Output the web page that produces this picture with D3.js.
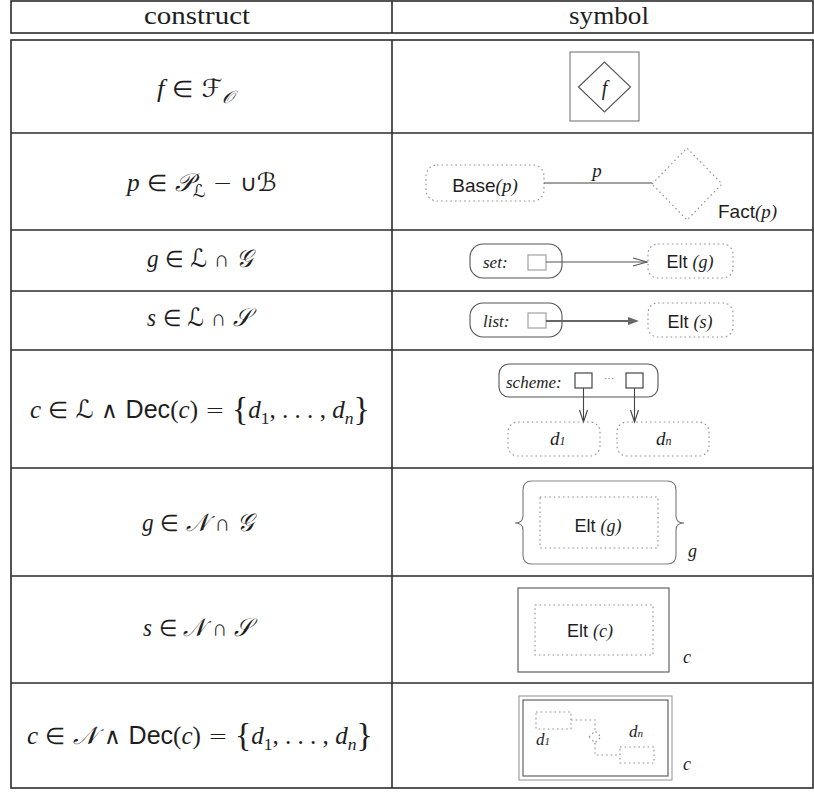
<!DOCTYPE html>
<html>
<head>
<meta charset="utf-8">
<script src="https://cdn.jsdelivr.net/npm/d3@7"></script>
<style>
  body { margin: 0; background: #fff; }
  text { white-space: pre; }
</style>
</head>
<body>
<div id="chart"></div>
<script>
const W = 814, H = 793;

// ---- table content ----
const headers = ["construct", "symbol"];

// formula runs: [text, style]  i=italic serif, r=roman, o=operator, c=calligraphic, s=sans, b=big brace, *_ = subscript
const constructs = [
  [["f","i"],[" ∈ ","o"],["ℱ","c"],["𝒪","c_"]],
  [["p","i"],[" ∈ ","o"],["𝒫","c"],["ℒ","c_"],[" − ∪","o"],["ℬ","c"]],
  [["g","i"],[" ∈ ","o"],["ℒ","c"],[" ∩ ","o"],["𝒢","c"]],
  [["s","i"],[" ∈ ","o"],["ℒ","c"],[" ∩ ","o"],["𝒮","c"]],
  [["c","i"],[" ∈ ","o"],["ℒ","c"],[" ∧ ","o"],["Dec","s"],["(","r"],["c","i"],[")","r"],[" = ","o"],
   ["{","b"],["d","i"],["1","r_"],[", . . . , ","r"],["d","i"],["n","i_"],["}","b"]],
  [["g","i"],[" ∈ ","o"],["𝒩","c"],[" ∩ ","o"],["𝒢","c"]],
  [["s","i"],[" ∈ ","o"],["𝒩","c"],[" ∩ ","o"],["𝒮","c"]],
  [["c","i"],[" ∈ ","o"],["𝒩","c"],[" ∧ ","o"],["Dec","s"],["(","r"],["c","i"],[")","r"],[" = ","o"],
   ["{","b"],["d","i"],["1","r_"],[", . . . , ","r"],["d","i"],["n","i_"],["}","b"]]
];

const symbolKinds = ["function", "property", "set", "list", "scheme", "nestedSet", "nestedList", "nestedScheme"];
const symbolTags  = ["", "", "set:", "list:", "scheme:", "", "", ""];
const symbolVars  = ["f", "p", "g", "s", "c", "g", "c", "c"];

// ---- layout ----
const LAYOUT = {
  left: 11, mid: 392, right: 813,
  headTop: 1, headBottom: 33, bodyTop: 40,
  rowHeights: [93, 97, 61, 59, 118, 108, 107, 105],
  formulaCx: [197.5, 201, 202, 202, 200, 200, 200.5, 200],
  formulaW: [81, 152, 110, 110, 340, 116, 115, 346],
  formulaBase: [57, 58, 37, 35, 68, 63, 60, 61],
  headCx: [197.5, 609], headW: [107, 80], headBase: 24
};

const FONT = {
  serif: "'Liberation Serif', 'DejaVu Serif', serif",
  sans: "'Liberation Sans', Arial, sans-serif",
  op: "'DejaVu Sans', sans-serif",
  cal: "'DejaVu Serif', 'DejaVu Sans', 'Noto Sans', serif"
};
const LINE = "#2b2b2b", SOLID = "#6a6a6a", DOT = "#8f8f8f", INK = "#1e1e1e";

const rowEdges = [0, ...d3.cumsum(LAYOUT.rowHeights)];
const y = d3.scaleLinear()
  .domain([0, rowEdges[rowEdges.length - 1]])
  .range([LAYOUT.bodyTop, LAYOUT.bodyTop + rowEdges[rowEdges.length - 1]]);

const svg = d3.select("#chart").append("svg")
  .attr("width", W).attr("height", H)
  .attr("viewBox", `0 0 ${W} ${H}`);

// mixed-style text runs, fitted to a target width
function drawRuns(parent, runs, size, cx, base, targetW) {
  const t = parent.append("text").attr("font-size", size).attr("fill", INK);
  let shift = 0;
  runs.forEach(([txt, st]) => {
    const sub = st.endsWith("_");
    const kind = sub ? st.slice(0, -1) : st;
    const ts = t.append("tspan").text(txt);
    const want = sub ? size * 0.25 : (kind === "b" ? size * 0.06 : 0);
    if (want !== shift) { ts.attr("dy", want - shift); shift = want; }
    if (sub) ts.attr("font-size", size * 0.7);
    if (kind === "i") ts.attr("font-family", FONT.serif).attr("font-style", "italic");
    else if (kind === "r") ts.attr("font-family", FONT.serif);
    else if (kind === "o") ts.attr("font-family", FONT.op).attr("font-weight", 200).attr("font-size", size * 0.92);
    else if (kind === "c") ts.attr("font-family", FONT.cal).attr("font-style", "italic");
    else if (kind === "s") ts.attr("font-family", FONT.sans);
    else if (kind === "b") ts.attr("font-family", FONT.serif).attr("font-size", size * 1.35).attr("font-weight", 300);
  });
  const bb = t.node().getBBox();
  const sx = targetW ? targetW / bb.width : 1;
  t.attr("transform", `translate(${cx - (bb.x + bb.width / 2) * sx},${base}) scale(${sx},1)`);
  return t;
}

// ---- table frame ----
const frame = svg.append("g").attr("fill", "none").attr("stroke", LINE).attr("stroke-width", 1.6);
frame.append("rect")
  .attr("x", LAYOUT.left).attr("y", LAYOUT.headTop)
  .attr("width", LAYOUT.right - LAYOUT.left).attr("height", LAYOUT.headBottom - LAYOUT.headTop);
frame.append("line")
  .attr("x1", LAYOUT.mid).attr("x2", LAYOUT.mid)
  .attr("y1", LAYOUT.headTop).attr("y2", LAYOUT.headBottom);
frame.append("rect")
  .attr("x", LAYOUT.left).attr("y", y(0))
  .attr("width", LAYOUT.right - LAYOUT.left).attr("height", y(rowEdges[rowEdges.length - 1]) - y(0));
frame.append("line")
  .attr("x1", LAYOUT.mid).attr("x2", LAYOUT.mid)
  .attr("y1", y(0)).attr("y2", y(rowEdges[rowEdges.length - 1]));
frame.selectAll(".sep")
  .data(rowEdges.slice(1, -1))
  .enter().append("line")
  .attr("class", "sep")
  .attr("x1", LAYOUT.left).attr("x2", LAYOUT.right)
  .attr("y1", d => y(d)).attr("y2", d => y(d));

// ---- header ----
headers.forEach((h, i) => {
  drawRuns(svg, [[h, "r"]], 26, LAYOUT.headCx[i], LAYOUT.headBase, LAYOUT.headW[i]);
});

// ---- construct column ----
constructs.forEach((runs, i) => {
  drawRuns(svg, runs, 25, LAYOUT.formulaCx[i], y(rowEdges[i]) + LAYOUT.formulaBase[i], LAYOUT.formulaW[i]);
});

// ---- symbol column ----
function dotted(sel) { return sel.attr("fill", "none").attr("stroke", DOT).attr("stroke-width", 1.1).attr("stroke-dasharray", "1.6,3"); }
function solid(sel, c) { return sel.attr("fill", "none").attr("stroke", c || SOLID).attr("stroke-width", 1.1); }
function label(g, parts, x, base, size, anchor) {
  const t = g.append("text").attr("x", x).attr("y", base).attr("font-size", size)
    .attr("fill", INK).attr("text-anchor", anchor || "start");
  parts.forEach(([txt, st]) => {
    const ts = t.append("tspan").text(txt);
    if (st === "s") ts.attr("font-family", FONT.sans);
    else ts.attr("font-family", FONT.serif).attr("font-style", "italic");
  });
  return t;
}
const diamond = (cx, cy, hw, hh) => `M${cx - hw},${cy}L${cx},${cy - hh}L${cx + hw},${cy}L${cx},${cy + hh}Z`;

const draw = {
  function(g, tag, v) {
    solid(g.append("rect"), "#777").attr("x", 178).attr("y", 12).attr("width", 69).attr("height", 69);
    solid(g.append("path"), "#555").attr("d", diamond(212.5, 47, 26, 25));
    label(g, [[v, "i"]], 212.5, 55, 20, "middle");
  },
  property(g, tag, v) {
    dotted(g.append("rect")).attr("x", 34).attr("y", 32).attr("width", 118).attr("height", 36).attr("rx", 11);
    label(g, [["Base", "s"], ["(" + v + ")", "i"]], 93, 59, 19, "middle");
    solid(g.append("line"), "#444").attr("x1", 152).attr("x2", 260).attr("y1", 50).attr("y2", 50);
    label(g, [[v, "i"]], 205, 44, 19, "middle");
    dotted(g.append("path")).attr("d", diamond(295, 51, 35, 36));
    label(g, [["Fact", "s"], ["(" + v + ")", "i"]], 326, 85, 19);
  },
  set(g, tag, v) {
    solid(g.append("rect"), "#555").attr("x", 78).attr("y", 14).attr("width", 92).attr("height", 34).attr("rx", 13);
    label(g, [[tag, "i"]], 91, 38, 17);
    solid(g.append("rect"), "#999").attr("x", 136).attr("y", 25).attr("width", 18).attr("height", 15);
    solid(g.append("line"), "#555").attr("x1", 154).attr("x2", 255).attr("y1", 32).attr("y2", 32);
    solid(g.append("path"), "#555").attr("d", "M241,28L255,32L241,36");
    dotted(g.append("rect")).attr("x", 256).attr("y", 14).attr("width", 85).attr("height", 34).attr("rx", 10);
    label(g, [["Elt ", "s"], ["(" + v + ")", "i"]], 298, 38, 18, "middle");
  },
  list(g, tag, v) {
    solid(g.append("rect"), "#555").attr("x", 78).attr("y", 12).attr("width", 92).attr("height", 34).attr("rx", 13);
    label(g, [[tag, "i"]], 91, 36, 17);
    solid(g.append("rect"), "#999").attr("x", 136).attr("y", 22).attr("width", 18).attr("height", 15);
    g.append("line").attr("x1", 154).attr("x2", 240).attr("y1", 30).attr("y2", 30)
      .attr("stroke", "#666").attr("stroke-width", 2);
    g.append("path").attr("d", "M236,26L247,30L236,34Z").attr("fill", "#666");
    dotted(g.append("rect")).attr("x", 256).attr("y", 12).attr("width", 85).attr("height", 34).attr("rx", 10);
    label(g, [["Elt ", "s"], ["(" + v + ")", "i"]], 298, 37, 18, "middle");
  },
  scheme(g, tag, v) {
    solid(g.append("rect"), "#555").attr("x", 107).attr("y", 14).attr("width", 159).attr("height", 33).attr("rx", 10);
    label(g, [[tag, "i"]], 114, 38, 17);
    solid(g.append("rect"), "#333").attr("x", 183).attr("y", 23).attr("width", 17).attr("height", 15);
    solid(g.append("rect"), "#333").attr("x", 234).attr("y", 23).attr("width", 17).attr("height", 15);
    label(g, [["···", "s"]], 217, 32, 10, "middle").attr("fill", "#777");
    [191.5, 242.5].forEach(x => {
      solid(g.append("line"), "#444").attr("x1", x).attr("x2", x).attr("y1", 38).attr("y2", 72);
      solid(g.append("path"), "#444").attr("d", `M${x - 4},60L${x},72L${x + 4},60`);
    });
    dotted(g.append("rect")).attr("x", 116).attr("y", 72).attr("width", 92).attr("height", 34).attr("rx", 10);
    dotted(g.append("rect")).attr("x", 225).attr("y", 72).attr("width", 92).attr("height", 34).attr("rx", 10);
    const d1 = label(g, [["d", "i"]], 158, 95, 19);
    d1.append("tspan").text("1").attr("font-size", 12).attr("font-family", FONT.serif).attr("font-style", "italic");
    const dn = label(g, [["d", "i"]], 264, 95, 19);
    dn.append("tspan").text("n").attr("font-size", 12).attr("font-family", FONT.serif).attr("font-style", "italic");
  },
  nestedSet(g, tag, v) {
    const side = (s) => {
      const c = 207.5, f = (x) => c + s * (c - x);
      return `M${f(140)},13Q${f(131)},13 ${f(131)},22L${f(131)},48Q${f(131)},55 ${f(123)},55` +
             `Q${f(131)},55 ${f(131)},62L${f(131)},87Q${f(131)},96 ${f(140)},96`;
    };
    solid(g.append("path"), "#777").attr("d", side(-1));
    solid(g.append("path"), "#777").attr("d", side(1));
    solid(g.append("line"), "#888").attr("x1", 140).attr("x2", 275).attr("y1", 13).attr("y2", 13);
    solid(g.append("line"), "#888").attr("x1", 140).attr("x2", 275).attr("y1", 96).attr("y2", 96);
    dotted(g.append("rect")).attr("x", 148).attr("y", 29).attr("width", 118).attr("height", 51);
    label(g, [["Elt ", "s"], ["(" + v + ")", "i"]], 206, 64, 18, "middle");
    label(g, [[v, "i"]], 296, 89, 18);
  },
  nestedList(g, tag, v) {
    solid(g.append("rect"), "#555").attr("x", 126).attr("y", 12).attr("width", 151).attr("height", 84);
    dotted(g.append("rect")).attr("x", 143).attr("y", 29).attr("width", 118).attr("height", 50);
    label(g, [["Elt ", "s"], ["(" + v + ")", "i"]], 198, 61, 18, "middle");
    label(g, [[v, "i"]], 291, 87, 18);
  },
  nestedScheme(g, tag, v) {
    solid(g.append("rect"), "#999").attr("x", 127).attr("y", 13).attr("width", 153).attr("height", 84);
    solid(g.append("rect"), "#555").attr("x", 131).attr("y", 17).attr("width", 145).attr("height", 76);
    dotted(g.append("rect")).attr("x", 144).attr("y", 29).attr("width", 35).attr("height", 17);
    dotted(g.append("rect")).attr("x", 228).attr("y", 64).attr("width", 34).attr("height", 16);
    dotted(g.append("path")).attr("d", "M179,37H203V48");
    dotted(g.append("path")).attr("d", diamond(203, 54, 6, 6));
    dotted(g.append("path")).attr("d", "M203,60V72H228");
    const d1 = label(g, [["d", "i"]], 144, 62, 17);
    d1.append("tspan").text("1").attr("font-size", 11).attr("font-family", FONT.serif).attr("font-style", "italic");
    const dn = label(g, [["d", "i"]], 237, 54, 17);
    dn.append("tspan").text("n").attr("font-size", 11).attr("font-family", FONT.serif).attr("font-style", "italic");
    label(g, [[v, "i"]], 291, 87, 18);
  }
};

symbolKinds.forEach((kind, i) => {
  const g = svg.append("g").attr("transform", `translate(${LAYOUT.mid},${y(rowEdges[i])})`);
  draw[kind](g, symbolTags[i], symbolVars[i]);
});
</script>
</body>
</html>
